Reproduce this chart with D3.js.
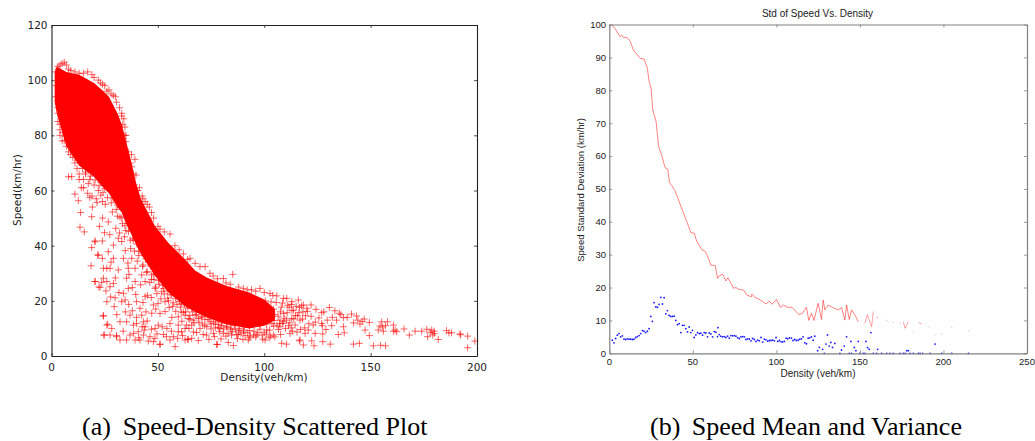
<!DOCTYPE html>
<html>
<head>
<meta charset="utf-8">
<script src="https://cdnjs.cloudflare.com/ajax/libs/d3/7.8.5/d3.min.js"></script>
<style>
  html, body { margin: 0; background: #fff; }
  svg { display: block; }
</style>
</head>
<body>
<svg id="chart" width="1035" height="441"></svg>
<script>
// left panel: the middle of the cloud is saturated red, so it is kept as upper/lower speed
// limits, individual + marks are the ones that can still be told apart
const coreDensity = [1.5, 2.5, 7, 13, 20, 24.4, 27, 31, 33, 35, 37, 40, 42, 48.7, 55, 62.8, 67.5, 73, 82, 93, 100, 105];
const coreUpper = [103, 105, 103, 102, 99, 96, 94, 88, 84, 78, 72, 62, 57, 47, 41, 35, 31, 28.5, 25.5, 23, 20.5, 17];
const coreLower = [92, 88, 76, 69, 65, 61, 59, 54, 52, 48, 45, 40, 37, 29, 23, 18, 16, 14, 11.5, 10, 11, 13];

const edgePoints = [
  [2,103],[3,105],[4,105.5],[5,106],[6,106.5],[7,105.5],[8,104],[9,103.5],[11,103],[13,102.5],[15,102.5],[17,103],
  [19,102],[20,101],[22,100],[23,99],[25,98],[26,96],[28,95],[30,94],[30.6,92],[29,94.5],[27,96.5],[24,98.5],
  [32,90],[33,87],[34,86],[33.5,84],[34.5,83],[33,88],[35,80],[34.5,80],[35,77.7],[33,77.7],[39.2,71.3],[37.7,68.6],
  [39.7,65.6],[37,70],[43,57],[36,74],[37.6,73],[38.4,66],[39,62],[40.6,60],[41.4,61],[42.6,58],
  [44,56],[46,54],[47,52],[45,55],[48,50],[50,47],[51,46],[53,45],[55.7,44.2],[58,40],[60,38.5],[62,37],[64,35],
  [65.1,35.4],[67.5,33.6],[69.8,32.4],[72.2,32.4],[74.5,30],[76,29],[78,28],[80.8,28.1],[82,26.5],[84,26],[85.2,29.6],
  [88,25],[90.2,24.5],[92,24],[94,24],[96,23.5],[98,24.5],[100,23],[102.7,22.7],[104,22],[105.9,21.8],[109,20.9],
  [110.6,20.9],[113,19.7],[116,20.3],[118.4,18.5],[122,18.5],[2,98],[2,94],[3,90],[3,88],[3,85],[4,82],[4,80],[5,78],
  [6,78],[7,76],[8,74],[9,73],[10,72],[11,70],[12,68],[13,66],[15,64],[18,64],[20,62],[8,65],[9.5,65],[13,64],
  [11,58.7],[14,61],[17,59],[12.6,56.3],[16,66],[19,58],[22,60],[21,57],[24,56]
];
const edgeFuzz = [
  [4,84],[5.3,81],[6.2,79.6],[8.4,76.5],[10.3,73.6],[12.2,71],[14.6,68],[16.1,66.7],[18.3,65.2],[20.5,63.8],[22.4,61.7],
  [24.2,59.2],[26.3,57.4],[28.1,55.5],[30.4,53.1],[32.2,50.4],[34.5,47.2],[36.2,45.1],[38.3,42.7],[40.1,40.6],[42.4,38.3],
  [44.2,35.2],[46.5,32.6],[48.1,29.8],[50.3,27.4],[52.2,25.6],[54.4,23.6],[56.1,22.4],[58.3,20.9],[60.2,19.8],[62.5,18.6],
  [64.1,17.4],[66.3,16],[68.2,15],[70.4,14],[72.1,13.3],[74.5,12.6],[76.2,11.9],[78.3,11.4],[80.1,11],[82.4,10.4],[84.2,10.1],
  [86.5,9.5],[88.1,9.2],[90.3,8.7],[92.2,8.4],[6,84],[9,79],[11,76],[15,71],[19,66.5],[23,63],[25,60.7],[29,57],[31,54.7],
  [33,50],[35,45.5],[37,42],[39,38],[41,36.4],[43,33],[45,30.6],[47,27.8],[49,25],[53,22.5],[55,20],[57,18],[59,18.7],[61,15.9],
  [63,16],[65,13.3],[67,12],[69,13.6],[71,11.6],[73,10.6],[75,9.8],[77,10.2],[79,8.8],[81,9.8],[83,8.2],[85,8.8],[87,7.7],
  [89,8.3],[91,7.4],[93,6.6],[95,7.6],[97,8.4],[99,7.6],[101,7.9],[103,7.2],[96,12],[97.5,15],[99,18],[100.5,20],[101.8,16.4],
  [103.2,19.6],[104.3,17],[105.6,19.4],[106.5,14.4],[107.6,16],[108.6,19.2],[109.6,13.7],[110.8,15.7],[111.7,17.7],[112.8,18.7],
  [113.9,13.4],[115.7,14.6],[116.6,17.6],[118.2,16],[119.4,14.6],[101,11.5],[103.6,11.8],[106,11.2],[109,12.4],[111.4,11],
  [113.2,9],[98,11.2],[100.6,12.8],[104.7,12.9],[107.2,11.8]
];
const lowerPoints = [
  [18.9,39.3],[20.5,41.7],[23.9,41.7],[22,36.6],[18.6,32.7],[23.9,35.4],[26,31.8],[27.5,31.8],[24.4,31.8],[31.4,31.2],
  [29.1,35.4],[33.8,35.4],[31.4,42.7],[33,41.5],[29.1,40.2],[26.7,37.8],[20.5,27],[22.8,24.9],[24.4,28.2],[26,27],
  [29.1,26.3],[27.5,25.1],[29.9,21.1],[26,19.7],[29.5,17.9],[24.4,14.6],[26.4,11.5],[28.3,10],[24.7,7.6],[27.5,7.6],
  [30.6,7],[32.2,5.8],[32.2,12.4],[35.3,5.8],[36.9,14.8],[38.5,11.2],[36.9,7.6],[39.3,5.8],[43.2,7.6],[43.6,9.4],
  [47.9,5.2],[51,4.2],[58.1,3.4],[52.6,7.8],[48.7,10],[44,10.6],[40,11.8],[34.6,20.3],[36.1,24.5],[33.8,22.7],[40,19.7],
  [41.6,17.3],[42.4,14.8],[47.9,18.5],[47.1,15.5],[53.4,16.1],[55.7,11.8],[59.6,8.8],[62.8,5.8],[65.9,6.4],[55.7,5.8],
  [59.6,14.2],[64.3,13.6],[53.4,19.7],[35.3,28.2],[39.3,27],[44,27],[42.4,29.4],[36.1,31.8],[37.7,35.4],[39.3,31.8],
  [47.1,29.4],[48.7,24.5],[51.8,23.3],[44,21.5],[56.5,22.1],[61.2,19.1],[65.9,17.3],[59.6,11.2],[62.8,10],[65.9,11.2],
  [57.3,7],[46.3,7],[41.6,5.8],[35.3,12.4],[40.8,8.8],[43.2,12.4],[50.2,11.2],[54.2,10],[62.8,14.8],[67.5,14.8],
  [13.7,52],[18.9,50.5],[13.4,46.7],[15.4,45],[20.4,41.4],[21.7,36.6],[20.4,27],[22.3,25],[24.3,14.5],
  [26,11.2],[24.7,7.6],[30.6,7.4],[45.5,5.4],[51,4.3],[64,6],[78,4.2],[85.5,3.8],
  [22.5,47],[24,50],[25.3,55],[26.7,48.6],[27.4,44],[28.6,52.2],[29.3,57.4],[30.2,46.3],[31.1,50.7],[32,44.6],[32.6,54],
  [33.4,48],[34.3,43.2],[21.4,55.6],[23.2,58.3],[26.1,61.2],[28.9,60],[30.8,62.3],[24.9,44.7],[19.2,54],[17.3,62.5],
  [15.1,61],[18,57.4],[34.7,38.2],[35.9,33.7],[37.2,38.9],[38.4,42],[36.4,29.6],[38,24.8],[40.3,34.4],[41.1,38],[42.8,32.5],
  [43.7,36.7],[39.6,22.3],[41.9,25.8],[44.6,30.3],[45.4,34.1],[46.2,26.6],[45.1,22],[43,19.4],[46.9,21.2],[48.2,27.7],
  [49.5,22.6],[50.6,26],[51.4,20.7],[52.7,24.4],[49,17],[51,15.4],[50.1,19],[54.6,21],[55.3,17.6],[57.2,19.3],[58.4,16.2],
  [56.6,14],[58.9,21.7],[60.6,17.7],[62,15.9],[61.3,12.6],[63.7,18.3],[65,14.7],[66.6,13],[68,16.4],[69.3,12.2],[70.8,14.4],
  [72,11],[73.6,13.2],[75,11.6],[77,12.4],[78.4,10.4],[80,12],[82.3,10.8],[84.4,9.7],[86,11],[88.3,10],[90.7,10.6],[93,9.2],
  [95.2,9],[98,9.7],[100,8.6],[102.5,9.4],[104.4,10.8],[106.7,9.6],[108.6,11.8],[110.5,13],[112,12],[114.7,14.7],[116.3,15.7],
  [118,13.4],[103,13],[105,15],[108,17.7],[111,18.4],[113,16.4],[115,18],[117.5,18.2],[120.3,16.2],[122,14.4],[124,12.3],
  [125.7,13.8],[127.3,11],[129,9.6],[121,11.7],[119,10.2],[117,9.6],[115.4,8.7],[112.7,10.2],[110,10],[107.7,7.8],[105,6.9],
  [102.3,6.6],[99.3,6.1],[96,6.9],[93.4,7.2],[90,6],[87.4,6.3],[84.6,7.6],[82,7.2],[79.7,6.2],[76.6,7],[74,6],[71.3,7.8],
  [69,5.6],[66.7,8.7],[64.6,10],[61.6,7.4],[59.3,6.4],[56.4,9],[54,7],[52,10.6],[49.6,8],[47,9.7],[45,12.7],[44.4,16],
  [42.6,10.6],[40,14],[38,16.4],[36.3,18.7],[34.7,16],[33,19.7],[31.7,23],[30,28.3],[28,34],[25.6,23.6],[23.6,26.7],[27.8,21.4],
  [30.7,15],[33.7,9],[38.6,8.2],[41,6.6],[48.6,6.4],
  [64.3,6.1],[68.2,8.5],[77.6,4.2],[83.1,4.9],[92.5,5.8],[100.4,5.8],[61.2,8.8],[72.9,7.6],[76.1,8.2],[80.8,8.2],[87.8,7.8],
  [96.5,7.6],[104.3,7.6],[112.1,8.2],[119.2,8.2],[63.5,11.2],[69.8,10],[79.2,10],[90.2,9.4],[101.2,9.4],[107.4,10.6],[114.5,11.2],
  [120.7,9.4],[120,17.3],[113.7,16.6],[109,15.4],[116.8,13],[112.9,13.6],[107.4,13]
];
const tailPoints = [
  [108.2,4.6],[110.5,4.3],[116.5,5.5],[118.4,4],[122.3,5.5],[123.4,3.7],[127.5,5.2],[131,4.3],[141.9,4.3],[144.7,4.6],
  [151.3,3.7],[154.7,3.9],[157,3.7],[116.8,5.8],[123.9,8.2],[123,11.2],
  [127,15.7],[124.3,16.9],[130.6,17.6],[133.2,16.4],[135.3,15.5],[137.2,13.9],[141,15.2],[143.4,14.5],[147,13.4],
  [149.4,12.2],[155.2,12.4],[157.9,12.4],[160.7,11.2],[161.5,9.4],[165.7,9.8],[168.2,7.6],[170.9,9],[174,9],[176.4,9.7],
  [178.7,9.4],[179.8,9],[179.2,7.6],[176.8,7],[181.8,6],[185.7,9.2],[186.8,8.4],[188,8.4],[192,8],[195.6,7.2],[195.6,3],
  [199,5.4],[134.8,7.8],[137.6,8.4],[137.2,10.6],[131.7,11],[127.5,8],[127,11.8],[129.6,13],[145,11.6],[149.4,7.4],
  [147.4,9.4],[153.6,9.4],[156,9],[154.4,10.9],[162.3,8.8],[160.7,9],[128,16],[132,14],[134,13],[136,15],
  [139,14],[142,12],[144,13],[146,12.5],[155.5,10.5],[157,11],[178,8.6],[180,8.2],[192.3,7.7]
];

// right panel: mean speed (red line) and standard deviation (blue dots) per density bin
const meanSolid = [
  [1.4,100],[3.4,98.8],[6.4,96.3],[7.4,96.8],[8.4,96.1],[10.4,96],[12.4,95.1],[14.4,92.2],[16.4,91],[18.4,89.7],[20.8,89.5],
  [22.8,86.7],[23.8,82.7],[25,80.6],[26,74],[28,70.5],[29.5,63],[31.5,60],[33.3,56.5],[35,56],[36,52],[37.4,51],[39.4,49.3],
  [41.4,46.7],[44.4,42.7],[46.8,39.5],[48.8,36.7],[50.8,36.5],[52.4,34],[55.4,31.5],[57.4,31],[58.8,29.6],[60.8,26.8],
  [63.4,26.7],[64.8,22.8],[66.4,23.8],[68,24],[69.8,22],[71,23],[72.8,21.3],[74.4,19.8],[75.8,20],[77.4,19.5],[80.4,19.2],
  [82.4,17.7],[85,17.2],[85.4,18],[87,17],[88.8,16.7],[91.4,15.9],[93.8,15],[95.8,15.9],[97.4,14.9],[100,16.4],[102.4,14],
  [104.4,14.7],[106.4,14],[109.4,14],[113.4,11.8],[115.4,12.1],[118,14],[119.4,10],[121,12.2],[122.5,10],[125,15.2],
  [127,10.3],[128,16.2],[129,13.2],[131,14.7],[134.6,13.7],[137,13.2],[139,13.9],[141,10.1],[142,14.7],[143.6,10.3],
  [145,13.2],[147,11.7],[149,9.6]
];
const meanSegments = [
  [[153,9.1],[154.4,11.7],[157,8.1],[158,12.7]],
  [[160,11.2],[160.8,10.6]],
  [[176,9.6],[177,7.6],[179,9.6]],
  [[185,9.4],[187,8.9]]
];
const meanFaint = [[166,10],[170,9.4],[174,9.1],[182,6.6],[191.5,8.1],[195,5.6],[199,5.9],[205,7.9],[215,6.9]];
const stdDots = [
  [1.8,4],[2.8,3.2],[3.8,4.5],[4.8,5.5],[5.8,6],[6.8,5],[7.8,5.3],[8.8,4.3],[9.8,4.2],[10.8,4.4],[11.8,4.3],[12.8,4.3],
  [13.8,4.2],[14.8,4.3],[15.8,4.8],[16.8,5.1],[17.8,5.4],[18.8,6],[19.8,6.9],[20.8,6.7],[21.8,6.3],[22.8,6.7],[23.8,7.5],
  [24.8,11.2],[25.8,9.7],[26.8,15.4],[27.8,14.1],[28.8,14],[29.8,14.9],[30.8,17],[31.8,15],[32.8,16.9],[33.8,12],[34.8,13],
  [35.8,11.5],[36.8,11.2],[37.8,11.2],[38.8,11.3],[39.8,10],[40.8,8.7],[41.8,9],[42.8,6.3],[43.8,8.5],[44.8,8.5],[45.8,7.5],
  [46.8,6.5],[47.8,8],[48.8,6.3],[49.8,7],[50.8,4.8],[51.8,5.6],[52.8,6.3],[53.8,6],[54.8,6.1],[55.8,5.5],[56.8,6.3],
  [57.8,6.2],[58.8,5],[59.8,6.2],[60.8,5.9],[61.8,5],[62.8,6.6],[63.8,6.4],[64.8,5.1],[65,7.8],[65.8,5.7],[66.8,5.2],
  [67.8,5],[68.8,5.1],[69.8,4.8],[70.8,5.2],[71.8,4.6],[72.8,5.4],[73.8,5.3],[74.8,5.4],[75.8,5.2],[76.8,4.7],[77.8,4.5],
  [78.8,5],[79.8,5.1],[80.8,5],[81.8,4.2],[82.8,4.4],[83.8,4.3],[84.8,3.8],[85.8,4.5],[86.8,4.2],[87.8,3.6],[88.8,4],
  [89.8,3.8],[90.8,4.8],[91.8,3.4],[92.8,4.3],[93.8,4.1],[94.8,3.7],[95.8,3.9],[96.8,3.9],[97.8,4],[98.8,3.8],[99.8,4.8],
  [100.8,3.6],[101.8,3.9],[102.8,3.5],[103.8,3.5],[104.8,3.6],[105.8,4.6],[106.8,4.4],[107.8,4.7],[109,4.6],[110,3.9],
  [111,4.2],[112,3.9],[113,4],[114,4.3],[115,4.4],[116,5],[117,3.2],[118,2.9],[119,4.6],[120,4.7],[121,5],[122,4],
  [123,5.2],[124.7,.8],[125.7,1.8],[127.7,1.2],[129.7,2.8],[130.6,5.6],[131.6,2.2],[132.6,3.3],[133.6,1.8],[135,3],
  [139,1],[140.6,2.2],[142,5],[144.6,3.6],[146.6,1.8],[147.6,.8],[149,3.6],[153.6,3.6],[154.6,1.7],[155.6,1.2],[156.6,6.3],
  [160.6,1.2],[178,.8],[179,.8],[195,2.8],
  [128.7,0],[138,0],[143.6,0],[145,0],[150,0],[152,0],[153,0],[158,0],[160,0],[163,0],[166,0],[168,0],[170,0],[174,0],
  [176,0],[177,0],[180,0],[182,0],[185,0],[186,0],[187.5,0],[192,0],[199,0],[205,0],[215,0]
];

const leftXTicks = [0, 50, 100, 150, 200];
const leftYTicks = [0, 20, 40, 60, 80, 100, 120];
const rightXTicks = [0, 50, 100, 150, 200, 250];
const rightYTicks = [0, 10, 20, 30, 40, 50, 60, 70, 80, 90, 100];

const svg = d3.select("#chart");

function frame(g, x, y, xTicks, yTicks, tickLen, color, width) {
  const [x0, x1] = x.range();
  const [y0, y1] = y.range();
  const sides = [
    [d3.axisBottom(x), y0, 0],
    [d3.axisTop(x), y1, 0],
    [d3.axisLeft(y), 0, x0],
    [d3.axisRight(y), 0, x1]
  ];
  sides.forEach(([axis, ty, tx], i) => {
    const isX = i < 2;
    const a = g.append("g")
      .attr("transform", `translate(${tx},${ty})`)
      .call(axis.tickValues(isX ? xTicks : yTicks).tickSizeInner(-tickLen).tickSizeOuter(0).tickFormat(""));
    a.select(".domain").attr("stroke", color).attr("stroke-width", width);
    a.selectAll(".tick line").attr("stroke", color).attr("stroke-width", 0.8);
  });
}

// ---------- left panel ----------
const xLeft = d3.scaleLinear().domain([0, 200]).range([51.5, 477]);
const yLeft = d3.scaleLinear().domain([0, 120]).range([356, 25]);
const left = svg.append("g");

const core = d3.area()
  .x((d, i) => xLeft(coreDensity[i]))
  .y0((d, i) => yLeft(coreLower[i]))
  .y1((d, i) => yLeft(coreUpper[i]));
left.append("path").attr("d", core(coreDensity)).attr("fill", "#ff0000");

left.append("g").selectAll("path")
  .data(edgePoints.concat(edgeFuzz, lowerPoints, tailPoints))
  .join("path")
  .attr("d", "M-3.5,0H3.5M0,-3.5V3.5")
  .attr("transform", d => `translate(${xLeft(d[0])},${yLeft(d[1])})`)
  .attr("fill", "none")
  .attr("stroke", "#ff0000")
  .attr("stroke-opacity", 0.6)
  .attr("stroke-width", 1);

frame(left, xLeft, yLeft, leftXTicks, leftYTicks, 3, "#222", 1.1);

const leftFont = "'DejaVu Sans', sans-serif";
left.selectAll(".xl").data(leftXTicks).join("text")
  .attr("x", d => xLeft(d)).attr("y", 371).attr("text-anchor", "middle")
  .attr("font-family", leftFont).attr("font-size", 10.5).attr("fill", "#222").text(d => d);
left.selectAll(".yl").data(leftYTicks).join("text")
  .attr("x", 47.5).attr("y", d => yLeft(d) + 4).attr("text-anchor", "end")
  .attr("font-family", leftFont).attr("font-size", 10.5).attr("fill", "#222").text(d => d);
left.append("text").attr("x", 264).attr("y", 381).attr("text-anchor", "middle")
  .attr("font-family", leftFont).attr("font-size", 10.5).attr("fill", "#222").text("Density(veh/km)");
left.append("text").attr("transform", "translate(21,190) rotate(-90)").attr("text-anchor", "middle")
  .attr("font-family", leftFont).attr("font-size", 10.5).attr("fill", "#222").text("Speed(km/hr)");

// ---------- right panel ----------
const xRight = d3.scaleLinear().domain([0, 250]).range([609.3, 1027]);
const yRight = d3.scaleLinear().domain([0, 100]).range([353.3, 24.5]);
const right = svg.append("g");

const line = d3.line().x(d => xRight(d[0])).y(d => yRight(d[1]));
right.append("path").attr("d", line(meanSolid))
  .attr("fill", "none").attr("stroke", "#ff0000").attr("stroke-opacity", 0.55).attr("stroke-width", 0.9);
right.selectAll(".seg").data(meanSegments).join("path")
  .attr("d", line).attr("fill", "none").attr("stroke", "#ff0000")
  .attr("stroke-opacity", 0.4).attr("stroke-width", 0.9);
right.selectAll(".faint").data(meanFaint).join("circle")
  .attr("cx", d => xRight(d[0])).attr("cy", d => yRight(d[1])).attr("r", 0.7)
  .attr("fill", "#ff0000").attr("fill-opacity", 0.25);
right.selectAll(".dot").data(stdDots).join("circle")
  .attr("cx", d => xRight(d[0])).attr("cy", d => yRight(d[1])).attr("r", 0.9)
  .attr("fill", "#1a1aff");

frame(right, xRight, yRight, rightXTicks, rightYTicks, 3, "#808080", 1.2);

const rightFont = "'Liberation Sans', Arial, sans-serif";
right.selectAll(".xl").data(rightXTicks).join("text")
  .attr("x", d => xRight(d)).attr("y", 365).attr("text-anchor", "middle")
  .attr("font-family", rightFont).attr("font-size", 9.5).attr("fill", "#222").text(d => d);
right.selectAll(".yl").data(rightYTicks).join("text")
  .attr("x", 606).attr("y", d => yRight(d) + 3.4).attr("text-anchor", "end")
  .attr("font-family", rightFont).attr("font-size", 9.5).attr("fill", "#222").text(d => d);
right.append("text").attr("x", 818).attr("y", 377).attr("text-anchor", "middle")
  .attr("font-family", rightFont).attr("font-size", 10).attr("fill", "#222").text("Density (veh/km)");
right.append("text").attr("x", 817.5).attr("y", 17).attr("text-anchor", "middle")
  .attr("font-family", rightFont).attr("font-size", 10).attr("fill", "#222").text("Std of Speed Vs. Density");
right.append("text").attr("transform", "translate(584,190) rotate(-90)").attr("text-anchor", "middle")
  .attr("font-family", rightFont).attr("font-size", 9.5).attr("fill", "#222").text("Speed Standard Deviation (km/hr)");

// captions
const captions = [
  { x: 82, label: "(a)", text: "Speed-Density Scattered Plot", tx: 122.7 },
  { x: 650, label: "(b)", text: "Speed Mean and Variance", tx: 691.7 }
];
captions.forEach(c => {
  svg.append("text").attr("x", c.x).attr("y", 435)
    .attr("font-family", "'Liberation Serif', serif").attr("font-size", 26).attr("fill", "#000").text(c.label);
  svg.append("text").attr("x", c.tx).attr("y", 435)
    .attr("font-family", "'Liberation Serif', serif").attr("font-size", 26).attr("fill", "#000").text(c.text);
});
</script>
</body>
</html>
